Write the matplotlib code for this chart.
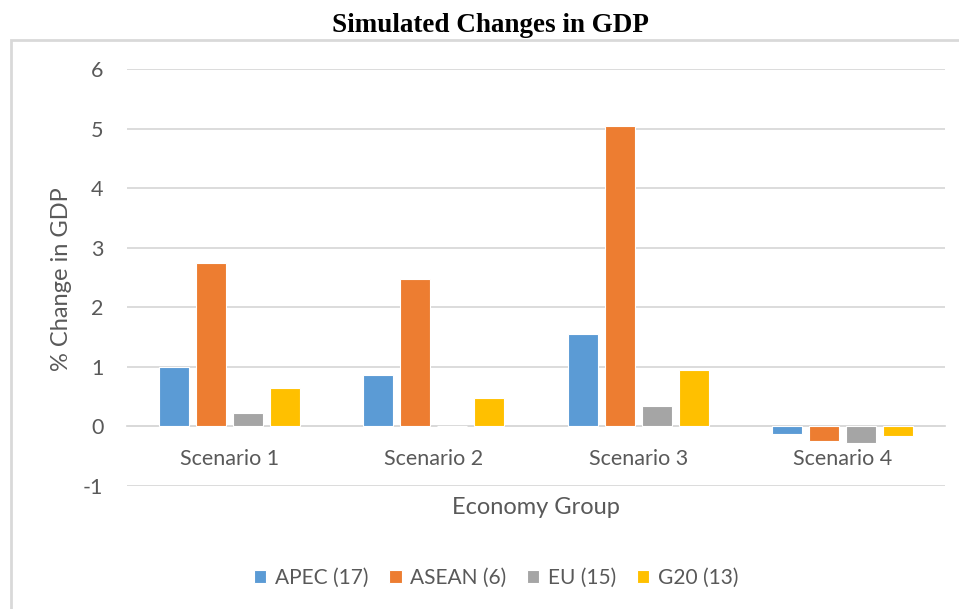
import numpy as np
import matplotlib.pyplot as plt
from matplotlib.patches import Rectangle

# Data
scenarios = ["Scenario 1", "Scenario 2", "Scenario 3", "Scenario 4"]
groups = ["APEC (17)", "ASEAN (6)", "EU (15)", "G20 (13)"]
apec = [1.00, 0.87, 1.55, -0.12]
asean = [2.75, 2.47, 5.05, -0.25]
eu = [0.23, 0.00, 0.35, -0.27]
g20 = [0.64, 0.47, 0.95, -0.16]

series = [apec, asean, eu, g20]
colors = ["#5B9BD5", "#ED7D31", "#A5A5A5", "#FFC000"]
text_col = "#595959"
grid_col = "#D9D9D9"
font = ["Lato", "DejaVu Sans"]

plt.rcParams["font.family"] = font
plt.rcParams["axes.unicode_minus"] = False

fig = plt.figure(figsize=(9.59, 6.09), dpi=100)
W, H = 959, 609

# outer chart border (only top and left visible in the crop)
fig.patches.append(Rectangle((11 / W, -0.1), 1.1, 1 - 40 / H + 0.1,
                             transform=fig.transFigure, fill=False,
                             edgecolor=grid_col, linewidth=2))

fig.text(490 / W, 1 - 25 / H, "Simulated Changes in GDP", ha="center", va="center",
         fontsize=19.5, fontweight="bold", family="Liberation Serif", color="black")

ax = fig.add_axes([127 / W, 1 - 486 / H, (945 - 127) / W, (486 - 69) / H])

x = np.arange(len(scenarios))
step = 0.181
width = 0.147
for i, (vals, c, lab) in enumerate(zip(series, colors, groups)):
    ax.bar(x + (i - 1.5) * step, vals, width, color=c, edgecolor="white",
           linewidth=0.8, label=lab, zorder=3)

ax.set_xlim(-0.5, 3.5)
ax.set_ylim(-1, 6)
ax.set_yticks(range(-1, 7))
ax.grid(axis="y", color=grid_col, linewidth=1.3, zorder=0)
ax.set_axisbelow(True)

for s in ["top", "right", "left"]:
    ax.spines[s].set_visible(False)
ax.spines["bottom"].set_position(("data", 0))
ax.spines["bottom"].set_color(grid_col)
ax.spines["bottom"].set_linewidth(1.3)

ax.set_xticks(x)
ax.set_xticklabels(scenarios)
ax.tick_params(axis="x", length=0, pad=16, labelsize=15.5, labelcolor=text_col)
ax.tick_params(axis="y", length=0, pad=17, labelsize=15.5, labelcolor=text_col)

fig.text(62 / W, 1 - 279 / H, "% Change in GDP", rotation=90, ha="center", va="center",
         fontsize=17, color=text_col)
fig.text(536 / W, 1 - 508 / H, "Economy Group", ha="center", va="center",
         fontsize=17, color=text_col)

handles, labels = ax.get_legend_handles_labels()
fig.legend(handles, labels, loc="center", bbox_to_anchor=(496 / W, 1 - 578 / H),
           ncol=4, frameon=False, fontsize=15, labelcolor=text_col,
           handlelength=0.6, handleheight=0.6, handletextpad=0.4, columnspacing=1.0)

fig.savefig("out.png", dpi=100)
